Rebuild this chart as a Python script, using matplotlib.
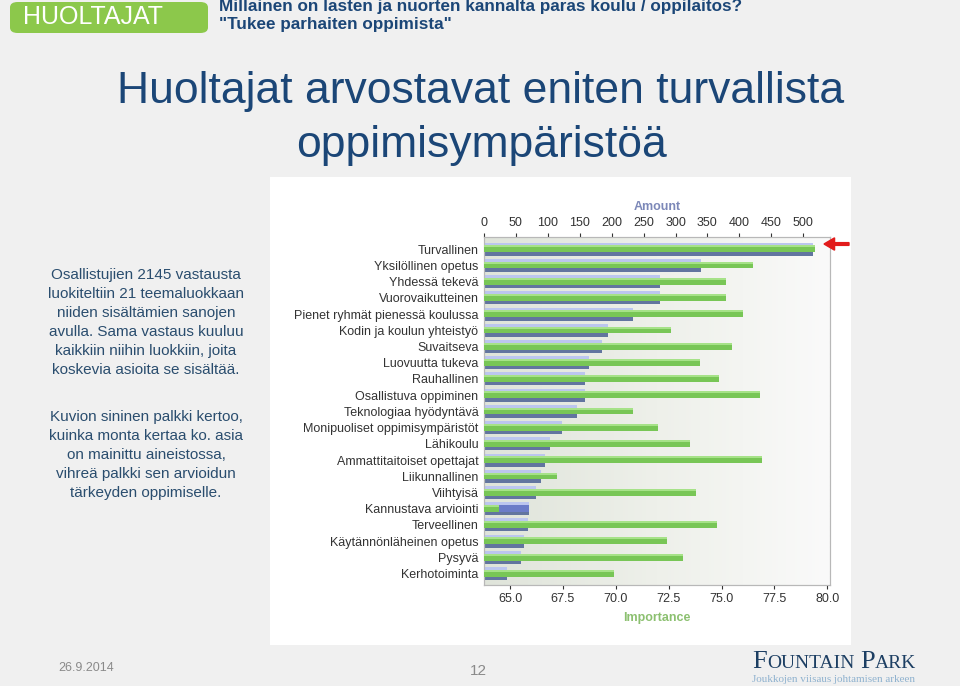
import numpy as np
import matplotlib.pyplot as plt
from matplotlib.colors import LinearSegmentedColormap
from matplotlib.patches import FancyBboxPatch, Rectangle, FancyArrow
from matplotlib.ticker import FormatStrFormatter

plt.rcParams['font.family'] = ['Liberation Sans', 'DejaVu Sans']

# data
categories = [
    'Turvallinen', 'Yksilöllinen opetus', 'Yhdessä tekevä', 'Vuorovaikutteinen',
    'Pienet ryhmät pienessä koulussa', 'Kodin ja koulun yhteistyö', 'Suvaitseva',
    'Luovuutta tukeva', 'Rauhallinen', 'Osallistuva oppiminen', 'Teknologiaa hyödyntävä',
    'Monipuoliset oppimisympäristöt', 'Lähikoulu', 'Ammattitaitoiset opettajat',
    'Liikunnallinen', 'Viihtyisä', 'Kannustava arviointi', 'Terveellinen',
    'Käytännönläheinen opetus', 'Pysyvä', 'Kerhotoiminta',
]
amount = [516, 340, 275, 275, 233, 194, 185, 165, 158, 158, 145,
          122, 104, 95, 90, 81, 70, 69, 63, 58, 36]
importance = [79.4, 76.5, 75.2, 75.2, 76.0, 72.6, 75.5, 74.0, 74.9, 76.8, 70.8,
              72.0, 73.5, 76.9, 67.2, 73.8, 64.5, 74.8, 72.4, 73.2, 69.9]
amount_ticks = list(range(0, 501, 50))
importance_ticks = [65.0, 67.5, 70.0, 72.5, 75.0, 77.5, 80.0]

side_text_1 = ['Osallistujien 2145 vastausta', 'luokiteltiin 21 teemaluokkaan',
               'niiden sisältämien sanojen', 'avulla. Sama vastaus kuuluu',
               'kaikkiin niihin luokkiin, joita', 'koskevia asioita se sisältää.']
side_text_2 = ['Kuvion sininen palkki kertoo,', 'kuinka monta kertaa ko. asia',
               'on mainittu aineistossa,', 'vihreä palkki sen arvioidun',
               'tärkeyden oppimiselle.']

W, H = 960, 686
fig = plt.figure(figsize=(W / 100, H / 100), dpi=100, facecolor='#f0f0f0')


def fx(px):
    return px / W


def fy(py):
    return 1 - py / H


navy = '#1b4677'

# header
fig.patches.append(FancyBboxPatch((fx(10), fy(33)), fx(198), fy(2) - fy(33),
                                  boxstyle='round,pad=0,rounding_size=0.008',
                                  transform=fig.transFigure, facecolor='#8cc84b',
                                  edgecolor='none', zorder=-2))
fig.text(fx(93), fy(17), 'HUOLTAJAT', color='white', fontsize=18,
         ha='center', va='center')
fig.text(fx(219), fy(6), 'Millainen on lasten ja nuorten kannalta paras koulu / oppilaitos?',
         color=navy, fontsize=12.3, fontweight='bold', ha='left', va='center')
fig.text(fx(219), fy(25), '"Tukee parhaiten oppimista"',
         color=navy, fontsize=12.3, fontweight='bold', ha='left', va='center')

# title
fig.text(fx(481), fy(92), 'Huoltajat arvostavat eniten turvallista', color=navy,
         fontsize=32, ha='center', va='center')
fig.text(fx(481), fy(146), 'oppimisympäristöä', color=navy,
         fontsize=32, ha='center', va='center')

# side text
for i, line in enumerate(side_text_1):
    fig.text(fx(146), fy(275 + 19 * i), line, color='#2a4d6e', fontsize=11,
             ha='center', va='center')
for i, line in enumerate(side_text_2):
    fig.text(fx(146), fy(417 + 19 * i), line, color='#2a4d6e', fontsize=11,
             ha='center', va='center')

# white chart panel
fig.patches.append(Rectangle((fx(270), fy(645)), fx(581), fy(177) - fy(645),
                             transform=fig.transFigure, facecolor='white',
                             edgecolor='none', zorder=-2))

ax = fig.add_axes([fx(484), fy(585), fx(830) - fx(484), fy(237) - fy(585)])
ax.set_facecolor('none')
grad = np.linspace(0, 1, 256).reshape(1, -1)
bg_cmap = LinearSegmentedColormap.from_list('bg', ['#dfe4da', '#eef0ea', '#fafafa'])
ax.imshow(grad, cmap=bg_cmap, extent=[0, 1, 0, 1],
          transform=ax.transAxes, aspect='auto', zorder=0)

y = np.arange(len(categories))
lo_imp, hi_imp = 63.77, 80.13

# twin for importance (green) on the bottom axis
ax2 = ax.twiny()
ax2.set_facecolor('none')

# blue amount bars: three stripes to mimic the gradient
ax.barh(y - 0.31, amount, height=0.18, color='#bcc6ef', zorder=2)
ax.barh(y - 0.02, amount, height=0.40, color='#6b7cc8', zorder=2)
ax.barh(y + 0.29, amount, height=0.22, color='#62759f', zorder=2)
ax.set_xlim(0, 542)
ax.set_ylim(len(categories) - 0.3, -0.75)
ax.set_yticks(y)
ax.set_yticklabels(categories, fontsize=9, color='#333333')
ax.tick_params(axis='y', length=0, pad=4)
ax.xaxis.tick_top()
ax.xaxis.set_label_position('top')
ax.set_xticks(amount_ticks)
ax.tick_params(axis='x', labelsize=9, colors='#333333', length=3, pad=3)
ax.set_xlabel('Amount', fontsize=9, fontweight='bold', color='#7c88b8', labelpad=5)

imp_len = [v - lo_imp for v in importance]
ax2.barh(y - 0.17, imp_len, left=lo_imp, height=0.12, color='#a6e288', zorder=3)
ax2.barh(y + 0.04, imp_len, left=lo_imp, height=0.30, color='#78c656', zorder=3)
ax2.set_xlim(lo_imp, hi_imp)
ax2.xaxis.tick_bottom()
ax2.xaxis.set_label_position('bottom')
ax2.set_xticks(importance_ticks)
ax2.xaxis.set_major_formatter(FormatStrFormatter('%.1f'))
ax2.tick_params(axis='x', labelsize=9, colors='#333333', length=3, pad=3)
ax2.set_xlabel('Importance', fontsize=9, fontweight='bold', color='#8cc070', labelpad=5)

for a in (ax, ax2):
    for s in a.spines.values():
        s.set_color('#b8b8b8')

# red arrow pointing at the top bar
fig.patches.append(FancyArrow(
    fx(849), fy(244), fx(824) - fx(849), 0, width=0.004, head_width=0.018,
    head_length=0.011, length_includes_head=True, transform=fig.transFigure,
    color='#e21b1b', zorder=5))

# footer
fig.text(fx(58), fy(668), '26.9.2014', color='#8a8a8a', fontsize=9, ha='left', va='center')
fig.text(fx(478), fy(671), '12', color='#8a8a8a', fontsize=11, ha='center', va='center')

# logo in small caps, pieces chained left to right
logo = '#1d3f63'
renderer = fig.canvas.get_renderer()
x_px = 752
for piece, size, gap in [('F', 19, 0), ('OUNTAIN', 14, 6), ('P', 19, 0), ('ARK', 14, 0)]:
    t = fig.text(fx(x_px), fy(668), piece, family='Liberation Serif', color=logo,
                 fontsize=size, ha='left', va='baseline')
    x_px += t.get_window_extent(renderer).width + gap
fig.text(fx(752), fy(680), 'Joukkojen viisaus johtamisen arkeen', family='Liberation Serif',
         color='#8fb2cf', fontsize=8, ha='left', va='center')

fig.savefig('out.png', dpi=100, facecolor=fig.get_facecolor())
